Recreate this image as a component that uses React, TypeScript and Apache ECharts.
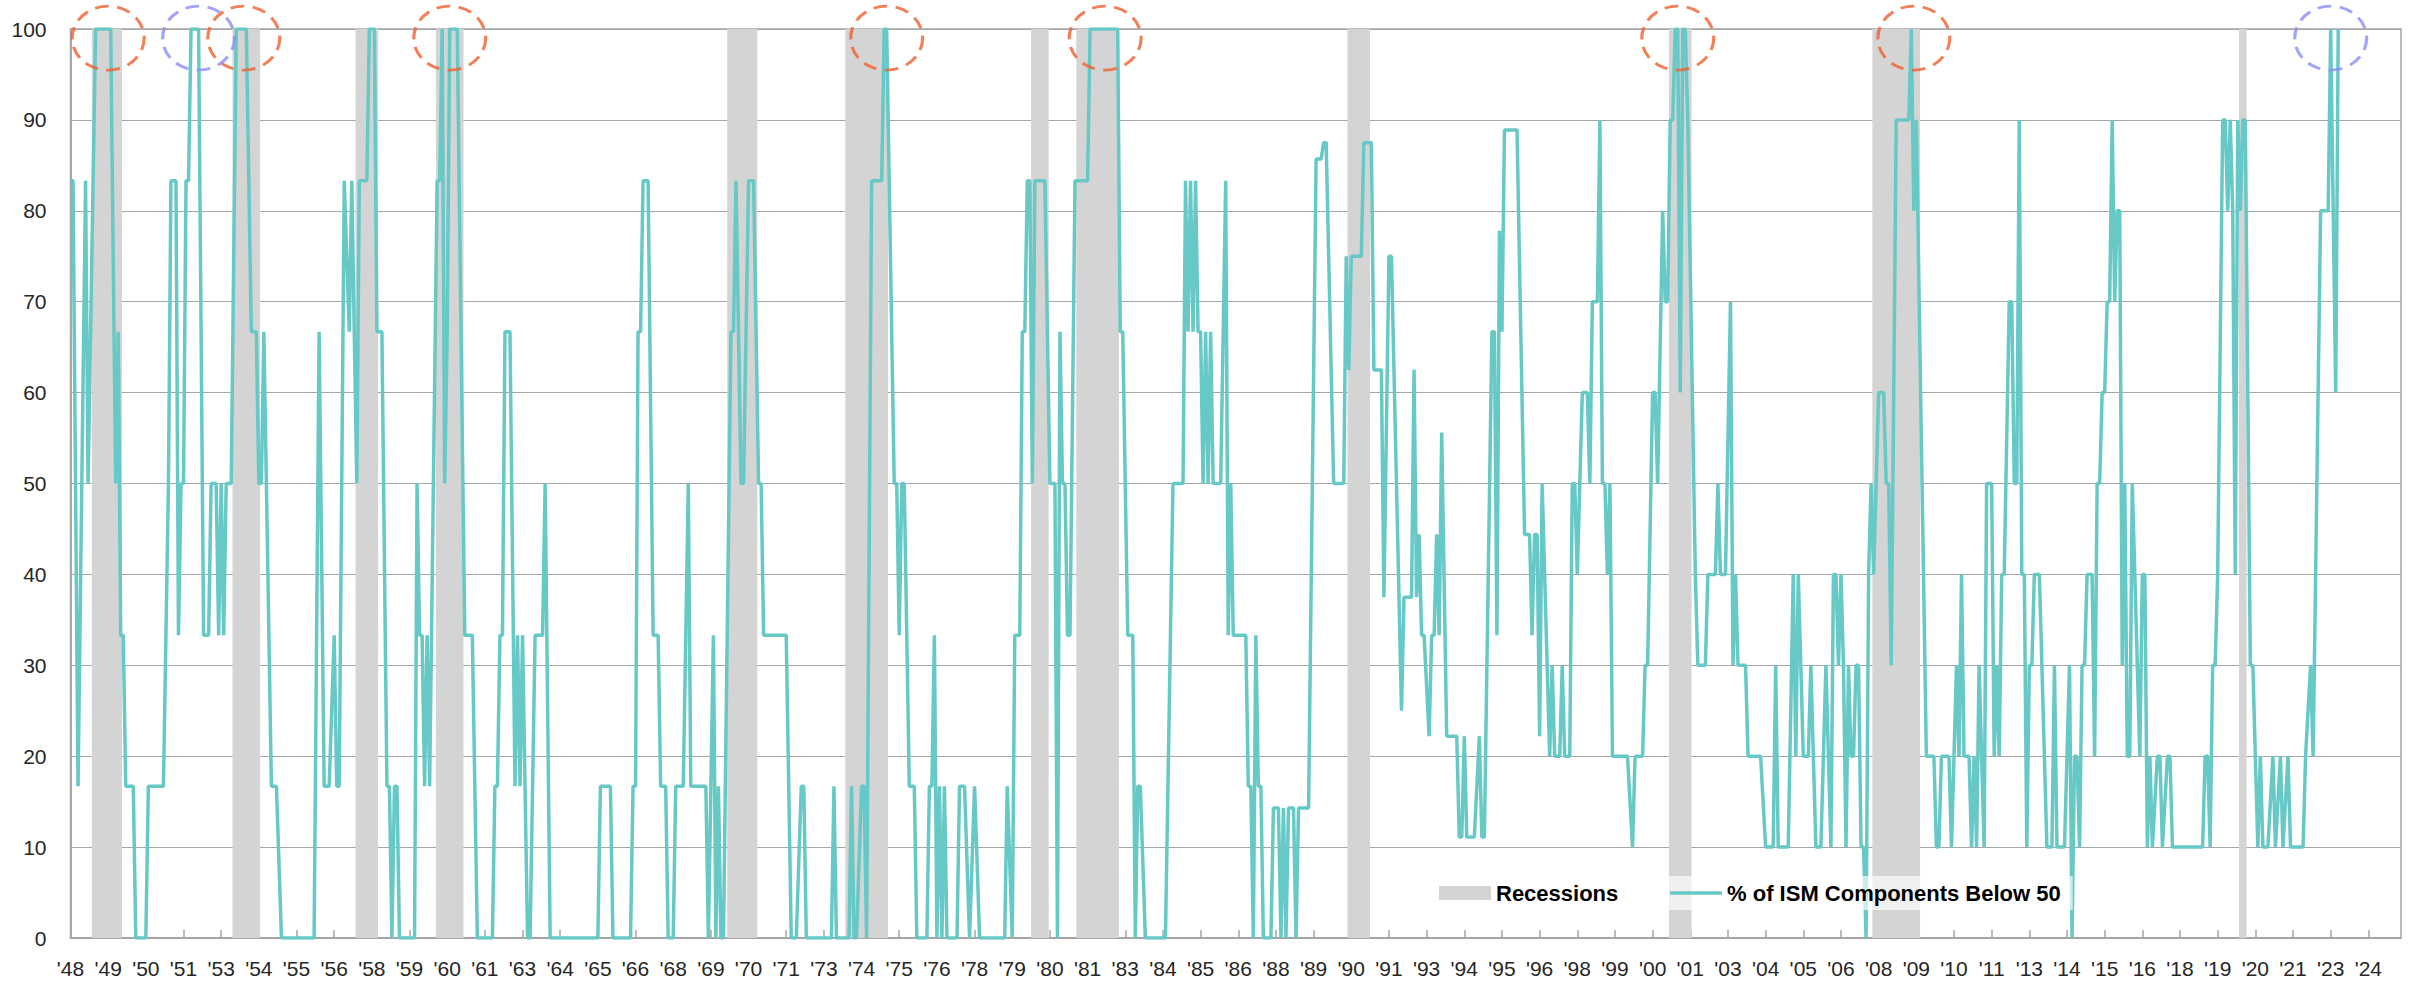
import React, { useEffect, useRef } from "react";
import * as echarts from "echarts";

const START_YEAR = 1948;
const AXIS_START = "1948-01";
const AXIS_END = "2025-05";
const LABEL_STEP_MONTHS = 15;

const xTickLabels = ["'48","'49","'50","'51","'53","'54","'55","'56","'58","'59","'60","'61","'63","'64","'65","'66","'68","'69","'70","'71","'73","'74","'75","'76","'78","'79","'80","'81","'83","'84","'85","'86","'88","'89","'90","'91","'93","'94","'95","'96","'98","'99","'00","'01","'03","'04","'05","'06","'08","'09","'10","'11","'13","'14","'15","'16","'18","'19","'20","'21","'23","'24"];
const yTicks = [0, 10, 20, 30, 40, 50, 60, 70, 80, 90, 100];

// % of ISM components below 50 (monthly turning points)
const ism1940s: [string, number][] = [
  ["1948-01",83.3],["1948-02",83.3],["1948-04",16.7],["1948-07",83.3],["1948-08",50],["1948-11",100],
  ["1949-05",100],["1949-07",50],["1949-08",66.7],["1949-09",33.3],["1949-10",33.3],["1949-11",16.7],
];
const ism1950s: [string, number][] = [
  ["1950-02",16.7],["1950-03",0],["1950-07",0],["1950-08",16.7],["1951-02",16.7],["1951-04",50],["1951-05",83.3],
  ["1951-07",83.3],["1951-08",33.3],["1951-09",50],["1951-10",50],["1951-11",83.3],["1951-12",83.3],["1952-01",100],
  ["1952-04",100],["1952-06",33.3],["1952-08",33.3],["1952-09",50],["1952-11",50],["1952-12",33.3],["1953-01",50],
  ["1953-02",33.3],["1953-03",50],["1953-05",50],["1953-07",100],["1953-11",100],["1954-01",66.7],["1954-03",66.7],
  ["1954-04",50],["1954-05",50],["1954-06",66.7],["1954-07",50],["1954-09",16.7],["1954-11",16.7],["1955-01",0],
  ["1956-02",0],["1956-04",66.7],["1956-06",16.7],["1956-08",16.7],["1956-10",33.3],["1956-11",16.7],["1956-12",16.7],
  ["1957-02",83.3],["1957-04",66.7],["1957-05",83.3],["1957-07",50],["1957-08",83.3],["1957-11",83.3],["1957-12",100],
  ["1958-02",100],["1958-03",66.7],["1958-05",66.7],["1958-07",16.7],["1958-08",16.7],["1958-09",0],["1958-10",16.7],
  ["1958-11",16.7],["1958-12",0],["1959-06",0],["1959-07",50],["1959-08",33.3],["1959-09",33.3],["1959-10",16.7],
  ["1959-11",33.3],["1959-12",16.7],
];
const ism1960s: [string, number][] = [
  ["1960-03",83.3],["1960-04",83.3],["1960-05",100],["1960-06",50],["1960-07",66.7],["1960-08",100],["1960-11",100],
  ["1961-02",33.3],["1961-05",33.3],["1961-07",0],["1962-01",0],["1962-02",16.7],["1962-03",16.7],["1962-04",33.3],
  ["1962-05",33.3],["1962-06",66.7],["1962-08",66.7],["1962-10",16.7],["1962-11",33.3],["1962-12",16.7],["1963-01",33.3],
  ["1963-03",0],["1963-04",0],["1963-06",33.3],["1963-09",33.3],["1963-10",50],["1963-12",0],["1965-07",0],
  ["1965-08",16.7],["1965-12",16.7],["1966-01",0],["1966-08",0],["1966-09",16.7],["1966-10",16.7],["1966-11",66.7],
  ["1966-12",66.7],["1967-01",83.3],["1967-03",83.3],["1967-05",33.3],["1967-07",33.3],["1967-08",16.7],["1967-10",16.7],
  ["1967-11",0],["1968-01",0],["1968-02",16.7],["1968-05",16.7],["1968-07",50],["1968-08",16.7],["1969-02",16.7],
  ["1969-03",0],["1969-05",33.3],["1969-06",0],["1969-07",16.7],["1969-08",0],["1969-09",0],["1969-12",66.7],
];
const ism1970s: [string, number][] = [
  ["1970-01",66.7],["1970-02",83.3],["1970-04",50],["1970-05",50],["1970-07",83.3],["1970-09",83.3],["1970-11",50],
  ["1970-12",50],["1971-01",33.3],["1971-10",33.3],["1971-12",0],["1972-02",0],["1972-04",16.7],["1972-05",16.7],
  ["1972-06",0],["1973-04",0],["1973-05",16.7],["1973-06",0],["1973-11",0],["1973-12",16.7],["1974-01",0],
  ["1974-02",0],["1974-04",16.7],["1974-05",16.7],["1974-06",0],["1974-08",83.3],["1974-12",83.3],["1975-01",100],
  ["1975-02",100],["1975-05",50],["1975-06",50],["1975-07",33.3],["1975-08",50],["1975-09",50],["1975-11",16.7],
  ["1976-01",16.7],["1976-02",0],["1976-06",0],["1976-07",16.7],["1976-08",16.7],["1976-09",33.3],["1976-10",0],
  ["1976-11",16.7],["1976-12",0],["1977-01",16.7],["1977-02",0],["1977-06",0],["1977-07",16.7],["1977-09",16.7],
  ["1977-11",0],["1978-01",16.7],["1978-03",0],["1979-01",0],["1979-02",16.7],["1979-04",0],["1979-05",33.3],
  ["1979-07",33.3],["1979-08",66.7],["1979-09",66.7],["1979-10",83.3],["1979-11",83.3],["1979-12",50],
];
const ism1980s: [string, number][] = [
  ["1980-01",83.3],["1980-05",83.3],["1980-07",50],["1980-09",50],["1980-10",0],["1980-11",66.7],["1980-12",50],
  ["1981-01",50],["1981-02",33.3],["1981-03",33.3],["1981-05",83.3],["1981-10",83.3],["1981-11",100],["1982-10",100],
  ["1982-11",66.7],["1982-12",66.7],["1983-02",33.3],["1983-04",33.3],["1983-05",0],["1983-06",16.7],["1983-07",16.7],
  ["1983-09",0],["1984-05",0],["1984-08",50],["1984-12",50],["1985-01",83.3],["1985-02",66.7],["1985-03",83.3],
  ["1985-04",66.7],["1985-05",83.3],["1985-06",66.7],["1985-07",66.7],["1985-08",50],["1985-09",66.7],["1985-10",50],
  ["1985-11",66.7],["1985-12",50],["1986-03",50],["1986-05",83.3],["1986-06",33.3],["1986-07",50],["1986-08",33.3],
  ["1987-01",33.3],["1987-02",16.7],["1987-03",16.7],["1987-04",0],["1987-05",33.3],["1987-06",16.7],["1987-07",16.7],
  ["1987-08",0],["1987-11",0],["1987-12",14.3],["1988-02",14.3],["1988-03",0],["1988-04",14.3],["1988-05",0],
  ["1988-06",14.3],["1988-08",14.3],["1988-09",0],["1988-10",14.3],["1989-02",14.3],["1989-05",85.7],["1989-07",85.7],
  ["1989-08",87.5],["1989-09",87.5],["1989-12",50],
];
const ism1990s: [string, number][] = [
  ["1990-04",50],["1990-05",75],["1990-06",62.5],["1990-07",75],["1990-11",75],["1990-12",87.5],["1991-03",87.5],
  ["1991-04",62.5],["1991-07",62.5],["1991-08",37.5],["1991-10",75],["1991-11",75],["1992-03",25],["1992-04",37.5],
  ["1992-07",37.5],["1992-08",62.5],["1992-09",37.5],["1992-10",44.4],["1992-11",33.3],["1992-12",33.3],["1993-02",22.2],
  ["1993-03",33.3],["1993-04",33.3],["1993-05",44.4],["1993-06",33.3],["1993-07",55.6],["1993-09",22.2],["1994-01",22.2],
  ["1994-02",11.1],["1994-03",11.1],["1994-04",22.2],["1994-05",11.1],["1994-08",11.1],["1994-10",22.2],["1994-11",11.1],
  ["1994-12",11.1],["1995-03",66.7],["1995-04",66.7],["1995-05",33.3],["1995-06",77.8],["1995-07",66.7],["1995-08",88.9],
  ["1996-01",88.9],["1996-04",44.4],["1996-06",44.4],["1996-07",33.3],["1996-08",44.4],["1996-09",44.4],["1996-10",22.2],
  ["1996-11",50],["1997-02",20],["1997-03",30],["1997-04",20],["1997-06",20],["1997-07",30],["1997-08",20],
  ["1997-10",20],["1997-11",50],["1997-12",50],["1998-01",40],["1998-03",60],["1998-05",60],["1998-06",50],
  ["1998-07",70],["1998-09",70],["1998-10",90],["1998-11",50],["1998-12",50],["1999-01",40],["1999-02",50],
  ["1999-03",20],["1999-09",20],["1999-11",10],["1999-12",20],
];
const ism2000s: [string, number][] = [
  ["2000-03",20],["2000-04",30],["2000-05",30],["2000-07",60],["2000-08",60],["2000-09",50],["2000-11",80],
  ["2000-12",70],["2001-01",70],["2001-02",90],["2001-03",90],["2001-04",100],["2001-05",100],["2001-06",60],
  ["2001-07",100],["2001-08",100],["2001-09",90],["2001-12",40],["2002-01",30],["2002-04",30],["2002-05",40],
  ["2002-08",40],["2002-09",50],["2002-10",40],["2002-12",40],["2003-02",70],["2003-03",30],["2003-04",40],
  ["2003-05",30],["2003-08",30],["2003-09",20],["2004-02",20],["2004-04",10],["2004-07",10],["2004-08",30],
  ["2004-09",10],["2005-01",10],["2005-03",40],["2005-04",20],["2005-05",40],["2005-06",30],["2005-07",20],
  ["2005-09",20],["2005-10",30],["2005-11",20],["2005-12",10],["2006-02",10],["2006-04",30],["2006-05",20],
  ["2006-06",10],["2006-07",40],["2006-08",40],["2006-09",30],["2006-10",40],["2006-11",30],["2006-12",10],
  ["2007-01",30],["2007-02",20],["2007-03",20],["2007-04",30],["2007-05",30],["2007-06",10],["2007-07",10],
  ["2007-08",0],["2007-09",40],["2007-10",50],["2007-11",40],["2007-12",50],["2008-01",60],["2008-03",60],
  ["2008-04",50],["2008-05",50],["2008-06",30],["2008-08",90],["2009-01",90],["2009-02",100],["2009-03",80],
  ["2009-04",90],["2009-08",20],["2009-11",20],["2009-12",10],
];
const ism2010s: [string, number][] = [
  ["2010-01",10],["2010-02",20],["2010-05",20],["2010-06",10],["2010-08",30],["2010-09",20],["2010-10",40],
  ["2010-11",20],["2011-01",20],["2011-02",10],["2011-03",20],["2011-04",10],["2011-05",30],["2011-06",20],
  ["2011-07",10],["2011-08",50],["2011-10",50],["2011-11",20],["2011-12",30],["2012-01",20],["2012-02",40],
  ["2012-03",40],["2012-05",70],["2012-06",70],["2012-07",50],["2012-08",50],["2012-09",90],["2012-10",40],
  ["2012-11",40],["2012-12",10],["2013-01",30],["2013-02",30],["2013-03",40],["2013-05",40],["2013-08",10],
  ["2013-10",10],["2013-11",30],["2013-12",10],["2014-03",10],["2014-05",30],["2014-06",0],["2014-07",20],
  ["2014-08",20],["2014-09",10],["2014-10",30],["2014-11",30],["2014-12",40],["2015-02",40],["2015-03",20],
  ["2015-04",50],["2015-05",50],["2015-06",60],["2015-07",60],["2015-08",70],["2015-09",70],["2015-10",90],
  ["2015-11",70],["2015-12",80],["2016-01",80],["2016-02",30],["2016-03",50],["2016-04",20],["2016-05",20],
  ["2016-06",50],["2016-07",40],["2016-09",20],["2016-10",40],["2016-11",40],["2016-12",10],["2017-01",20],
  ["2017-02",10],["2017-04",20],["2017-05",20],["2017-06",10],["2017-08",20],["2017-09",20],["2017-10",10],
  ["2018-10",10],["2018-11",20],["2018-12",20],["2019-01",10],["2019-02",30],["2019-03",30],["2019-04",40],
  ["2019-06",90],["2019-07",90],["2019-08",80],["2019-09",90],["2019-10",80],["2019-11",40],["2019-12",90],
];
const ism2020s: [string, number][] = [
  ["2020-01",80],["2020-02",90],["2020-03",90],["2020-05",30],["2020-06",30],["2020-08",10],["2020-09",20],
  ["2020-10",10],["2020-12",10],["2021-02",20],["2021-03",10],["2021-05",20],["2021-06",10],["2021-08",20],
  ["2021-09",10],["2022-02",10],["2022-03",20],["2022-05",30],["2022-06",20],["2022-09",80],["2022-12",80],
  ["2023-01",100],["2023-03",60],["2023-04",100],
];

// Recession months (shaded)
const recessions: [string, string][] = [
  ["1948-10","1949-09"],["1953-06","1954-04"],["1957-07","1958-03"],["1960-03","1961-01"],
  ["1969-11","1970-10"],["1973-10","1975-02"],["1979-12","1980-06"],["1981-06","1982-10"],
  ["1990-06","1991-02"],["2001-02","2001-10"],["2007-11","2009-05"],["2020-01","2020-03"],
];

// Highlighted peaks (dashed circles)
const peaksRed = ["1949-04","1953-10","1960-08","1975-02","1982-05","2001-05","2009-03"];
const peaksBlue = ["1952-04","2023-01"];
const PEAK_MARK_VALUE = 99;

const SERIES_NAME = "% of ISM Components Below 50";
const RECESSION_NAME = "Recessions";

const toIdx = (s: string) => {
  const [y, m] = s.split("-").map(Number);
  return (y - START_YEAR) * 12 + (m - 1);
};

export default function App() {
  const ref = useRef<HTMLDivElement>(null);
  useEffect(() => {
    if (!ref.current) return;
    const chart = echarts.init(ref.current, undefined, { renderer: "svg" });
    const all = [...ism1940s, ...ism1950s, ...ism1960s, ...ism1970s, ...ism1980s, ...ism1990s, ...ism2000s, ...ism2010s, ...ism2020s];
    const lineData = all.map(([d, v]) => [toIdx(d), v]);
    const areas = recessions.map(([a, b]) => [{ xAxis: toIdx(a) - 0.5 }, { xAxis: toIdx(b) + 0.5 }]);
    const font = "'Liberation Sans', Arial, sans-serif";
    const teal = "#66C9C6";
    const circleStyle = (c: string) => ({
      color: "rgba(0,0,0,0)",
      borderColor: c,
      borderWidth: 3,
      borderType: [13, 8],
    });
    chart.setOption({
      animation: false,
      backgroundColor: "#ffffff",
      textStyle: { fontFamily: font },
      grid: {
        left: 70.5, right: 11, top: 29, bottom: 48,
        show: true, borderColor: "#A6A6A6", borderWidth: 1.5, backgroundColor: "transparent",
      },
      legend: {
        left: 1427, top: 876,
        padding: [6, 12],
        itemWidth: 52, itemHeight: 14, itemGap: 50,
        backgroundColor: "rgba(255,255,255,0.65)",
        textStyle: { fontFamily: font, fontSize: 22, fontWeight: "bold", color: "#000" },
        data: [
          { name: RECESSION_NAME, icon: "rect", itemStyle: { color: "#D4D4D4" } },
          {
            name: SERIES_NAME,
            itemStyle: { color: "rgba(0,0,0,0)", borderWidth: 0, borderColor: "rgba(0,0,0,0)" },
            lineStyle: { color: teal, width: 3.5 },
          },
        ],
        selectedMode: false,
      },
      xAxis: {
        type: "value",
        min: toIdx(AXIS_START),
        max: toIdx(AXIS_END),
        interval: LABEL_STEP_MONTHS,
        splitLine: { show: false },
        axisLine: { show: true, lineStyle: { color: "#A6A6A6", width: 2 } },
        axisTick: { show: true, inside: true, length: 8, lineStyle: { color: "#A6A6A6", width: 1.5 } },
        axisLabel: {
          showMaxLabel: false,
          margin: 20,
          fontSize: 21,
          color: "#262626",
          fontFamily: font,
          formatter: (v: number) => xTickLabels[Math.round(v / LABEL_STEP_MONTHS)] ?? "",
        },
      },
      yAxis: {
        type: "value",
        min: yTicks[0],
        max: yTicks[yTicks.length - 1],
        interval: yTicks[1] - yTicks[0],
        axisLine: { show: true, lineStyle: { color: "#A6A6A6", width: 2 } },
        axisTick: { show: false },
        splitLine: { show: true, lineStyle: { color: "#A6A6A6", width: 1 } },
        axisLabel: { margin: 24, fontSize: 21, color: "#262626", fontFamily: font },
      },
      series: [
        {
          name: RECESSION_NAME,
          type: "line",
          data: [],
          z: 1,
          color: "#D4D4D4",
          itemStyle: { color: "#D4D4D4" },
          markArea: {
            silent: true,
            itemStyle: { color: "#D4D4D4" },
            data: areas,
          },
        },
        {
          name: SERIES_NAME,
          type: "line",
          data: lineData,
          z: 3,
          symbol: "none",
          showSymbol: false,
          color: teal,
          lineStyle: { color: teal, width: 3.5 },
        },
        {
          type: "scatter",
          z: 5,
          silent: true,
          symbol: "circle",
          symbolSize: [72, 64],
          itemStyle: circleStyle("#F0602E"),
          data: peaksRed.map((d) => [toIdx(d), PEAK_MARK_VALUE]),
        },
        {
          type: "scatter",
          z: 5,
          silent: true,
          symbol: "circle",
          symbolSize: [72, 64],
          itemStyle: circleStyle("#8C8CF7"),
          data: peaksBlue.map((d) => [toIdx(d), PEAK_MARK_VALUE]),
        },
      ],
    });
    return () => chart.dispose();
  }, []);
  return (
    <div
      ref={ref}
      style={{ position: "absolute", left: 0, top: 0, width: 2412, height: 986, background: "#fff" }}
    />
  );
}
